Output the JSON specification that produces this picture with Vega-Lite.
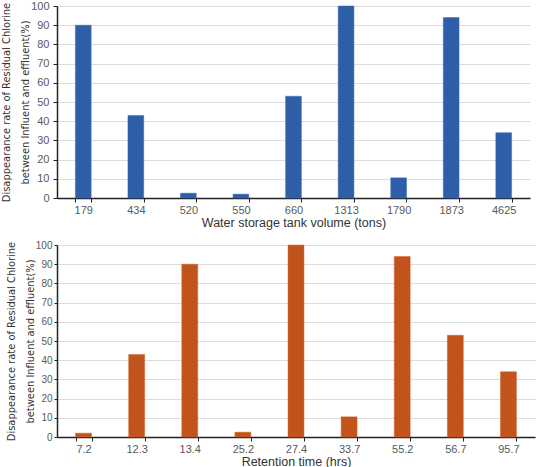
{
  "$schema": "https://vega.github.io/schema/vega-lite/v6.json",
  "padding": {"left": 0, "top": 0, "right": 3, "bottom": 0},
  "background": "white",
  "spacing": 11,
  "config": {
    "view": {"stroke": null},
    "font": "Liberation Sans",
    "axis": {
      "labelFont": "Liberation Sans",
      "labelFontSize": 11,
      "labelColor": "#595959",
      "domainColor": "#222222",
      "tickColor": "#222222",
      "titleColor": "#333333",
      "titleFontWeight": "normal"
    },
    "axisY": {
      "grid": true,
      "gridColor": "#dcdcdc",
      "domainWidth": 1.5,
      "tickSize": 4,
      "labelPadding": 4,
      "titleFont": "DejaVu Sans Condensed, Liberation Sans",
      "titleFontSize": 11,
      "titleLineHeight": 19,
      "titlePadding": 0
    },
    "axisX": {
      "domainWidth": 1.5,
      "tickSize": 4,
      "tickBand": "extent",
      "labelAngle": 0,
      "labelPadding": 2,
      "titleFont": "Liberation Sans",
      "titleFontSize": 12.5,
      "titlePadding": 1
    }
  },
  "datasets": {
    "volume": [
      {"tank": "179", "rate": 90},
      {"tank": "434", "rate": 43},
      {"tank": "520", "rate": 2.5},
      {"tank": "550", "rate": 2},
      {"tank": "660", "rate": 53},
      {"tank": "1313", "rate": 100},
      {"tank": "1790", "rate": 10.5},
      {"tank": "1873", "rate": 94},
      {"tank": "4625", "rate": 34}
    ],
    "retention": [
      {"hrs": "7.2", "rate": 2},
      {"hrs": "12.3", "rate": 43},
      {"hrs": "13.4", "rate": 90},
      {"hrs": "25.2", "rate": 2.5},
      {"hrs": "27.4", "rate": 100},
      {"hrs": "33.7", "rate": 10.5},
      {"hrs": "55.2", "rate": 94},
      {"hrs": "56.7", "rate": 53},
      {"hrs": "95.7", "rate": 34}
    ]
  },
  "vconcat": [
    {
      "width": 473,
      "height": 192,
      "data": {"name": "volume"},
      "mark": {"type": "bar", "color": "#2f5ea8", "stroke": "#3a6cb8", "strokeWidth": 0.5},
      "encoding": {
        "x": {
          "field": "tank",
          "type": "ordinal",
          "sort": null,
          "title": "Water storage tank volume (tons)",
          "scale": {"paddingInner": 0.7, "paddingOuter": 0.35}
        },
        "y": {
          "field": "rate",
          "type": "quantitative",
          "title": ["Disappearance rate of Residual Chlorine", "between Influent and effluent(%)"],
          "scale": {"domain": [0, 100], "nice": false},
          "axis": {"values": [0, 10, 20, 30, 40, 50, 60, 70, 80, 90, 100]}
        }
      }
    },
    {
      "width": 478,
      "height": 192,
      "data": {"name": "retention"},
      "mark": {"type": "bar", "color": "#c2531d", "stroke": "#d0652c", "strokeWidth": 0.5},
      "encoding": {
        "x": {
          "field": "hrs",
          "type": "ordinal",
          "sort": null,
          "title": "Retention time (hrs)",
          "scale": {"paddingInner": 0.7, "paddingOuter": 0.35}
        },
        "y": {
          "field": "rate",
          "type": "quantitative",
          "title": ["Disappearance rate of Residual Chlorine", "between Influent and effluent(%)"],
          "scale": {"domain": [0, 100], "nice": false},
          "axis": {"values": [0, 10, 20, 30, 40, 50, 60, 70, 80, 90, 100], "labelFontSize": 10, "labelPadding": 2, "tickSize": 3}
        }
      }
    }
  ]
}
